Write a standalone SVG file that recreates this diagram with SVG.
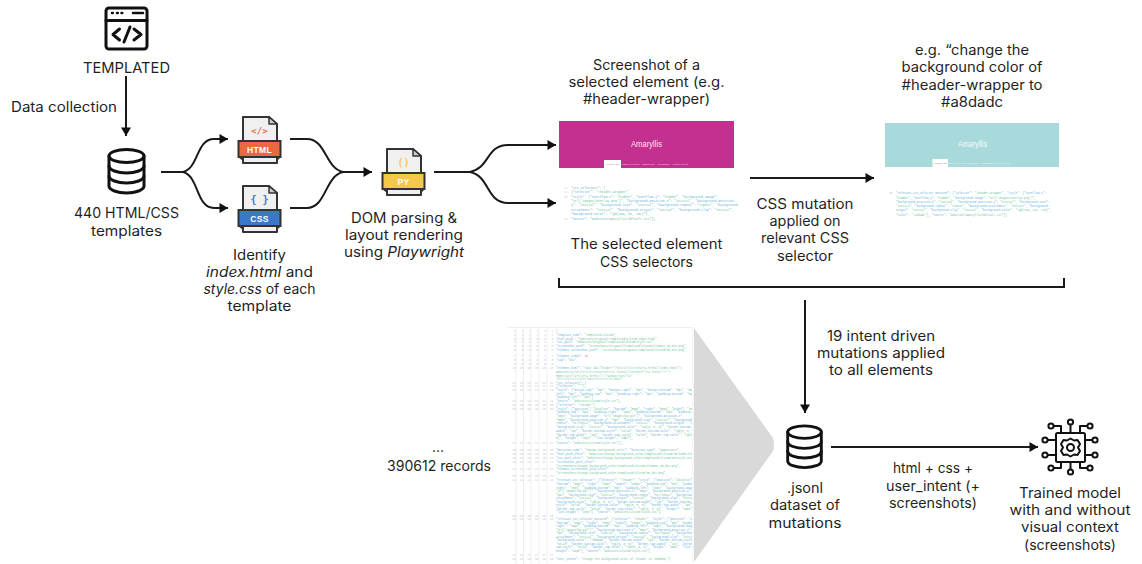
<svg xmlns="http://www.w3.org/2000/svg" width="1142" height="564" viewBox="0 0 1142 564">
<style>
.t{font-family:"Inter","Open Sans","Liberation Sans",sans-serif;font-size:14px;fill:#1f1f1f;text-anchor:middle}
.i{font-style:italic}
.c{fill:none;stroke:#1a1a1a;stroke-width:2}
.ic{fill:none;stroke:#111;stroke-width:3;stroke-linecap:round;stroke-linejoin:round}
.ch{fill:none;stroke:#111;stroke-width:2;stroke-linecap:round;stroke-linejoin:round}
.b{font-family:"Liberation Sans",sans-serif;font-weight:700;font-size:8.5px;fill:#fff;text-anchor:middle;letter-spacing:.4px}
.m{font-family:"DejaVu Sans Mono","Liberation Mono",monospace;font-weight:700;text-anchor:middle}
.code{font-family:"Liberation Mono",monospace;font-size:3.2px;fill:#68b0d8}
.code tspan{fill:#6cc596}
.sm{font-size:2.8px}
.sm2{font-size:2.85px}
.n{font-family:"Liberation Mono",monospace;font-size:2.8px;fill:#c4c4c4;word-spacing:2.46px}
.n1{font-family:"Liberation Mono",monospace;font-size:2.8px;fill:#c4c4c4;word-spacing:4.14px}
.sep{stroke:#efefef;stroke-width:1}
.am{font-family:"Liberation Sans",sans-serif;font-size:9px;fill:#fff;text-anchor:middle;opacity:.9}
.tab{font-family:"Liberation Sans",sans-serif;font-size:2.4px;fill:#fff;text-anchor:middle;opacity:.7}
</style>
<defs>
<clipPath id="panel"><rect x="507" y="327" width="185" height="237"/></clipPath>
<marker id="a" markerUnits="userSpaceOnUse" markerWidth="12" markerHeight="12" refX="10" refY="6" orient="auto"><path d="M1.500 1 10 6 1.500 11z" fill="#111"/></marker>
<g id="page">
<path d="M5 25V1H31L39 8V25M5 41V47H39V41" fill="#f0f0f0" stroke="#333" stroke-width="2" stroke-linejoin="round"/>
<path d="M31 1V8H39z" fill="#ccc" stroke="#333" stroke-width="1.500" stroke-linejoin="round"/>
<path d="M0 41 5 45V41zM43 41 39 45V41z" fill="#333"/>
</g>
<g id="db" class="ic">
<ellipse cx="0" cy="-15" rx="17.500" ry="6.500"/>
<path d="M-17.500 -15V15C-17.500 19 -9 22 0 22S17.500 19 17.500 15V-15"/>
<path d="M-17.500 -5C-17.500 -1 -9 2 0 2S17.500 -1 17.500 -5"/>
<path d="M-17.500 5C-17.500 9 -9 12 0 12S17.500 9 17.500 5"/>
</g>
</defs>

<g id="connectors">
<path class="c" marker-end="url(#a)" d="M126 76V136"/>
<path class="c" marker-end="url(#a)" d="M161 172H183C199 168 196 139 214 139H228"/>
<path class="c" marker-end="url(#a)" d="M161 172H183C199 176 196 208 214 208H228"/>
<path class="c" d="M290 139H307C326 139 325 168 343 172"/>
<path class="c" d="M290 208H307C326 208 325 176 343 172"/>
<path class="c" marker-end="url(#a)" d="M340 172H372"/>
<path class="c" marker-end="url(#a)" d="M434 172H470C490 168 486 145 508 145H556"/>
<path class="c" marker-end="url(#a)" d="M470 172C490 176 486 203 508 203H556"/>
<path class="c" marker-end="url(#a)" d="M750 178H874"/>
<path class="c" d="M559 278V287H1064V278"/>
<path class="c" marker-end="url(#a)" d="M805 300V413"/>
<path class="c" marker-end="url(#a)" d="M831 447H1038"/>
</g>

<g id="templated">
<rect class="ic" x="106" y="8" width="41" height="41" rx="3"/>
<path class="ic" d="M106 20.500H147"/>
<path d="M112 13H112.800M117 13H117.800M121.500 13H122.300" class="ic" style="stroke-width:2.500"/>
<path class="ic" d="M133 13H143" style="stroke-width:2.500"/>
<path class="ic" d="M119.500 29 113 34.500 119.500 40M130 27 124 42M134 29 141 34.500 134 40"/>
<text class="t" x="126.500" y="73" textLength="87" lengthAdjust="spacingAndGlyphs">TEMPLATED</text>
</g>
<g id="data-collection"><text class="t" x="64" y="112" textLength="106" lengthAdjust="spacingAndGlyphs">Data collection</text></g>
<g id="templates-db">
<use href="#db" x="126.500" y="171"/>
<text class="t" x="126.500" y="218" textLength="105" lengthAdjust="spacingAndGlyphs">440 HTML/CSS</text>
<text class="t" x="126.500" y="236" textLength="71" lengthAdjust="spacingAndGlyphs">templates</text>
</g>
<g id="html-file">
<use href="#page" x="238" y="116"/>
<rect x="238.500" y="141" width="42" height="16" fill="#e96a42" stroke="#333" stroke-width="2"/>
<text class="m" x="259.500" y="134" font-size="9" style="fill:#e96a42">&lt;/&gt;</text>
<text class="b" x="259.500" y="152.500">HTML</text>
</g>
<g id="css-file">
<use href="#page" x="238" y="185"/>
<rect x="238.500" y="210" width="42" height="16" fill="#3a78c9" stroke="#333" stroke-width="2"/>
<text class="m" x="259.500" y="203" font-size="10" style="fill:#3a78c9">{ }</text>
<text class="b" x="259.500" y="221.500">CSS</text>
</g>
<g id="identify">
<text class="t" x="259.500" y="260" textLength="53" lengthAdjust="spacingAndGlyphs">Identify</text>
<text class="t" x="259.500" y="277" textLength="107" lengthAdjust="spacingAndGlyphs"><tspan class="i">index.html</tspan> and</text>
<text class="t" x="259.500" y="294" textLength="112" lengthAdjust="spacingAndGlyphs"><tspan class="i">style.css</tspan> of each</text>
<text class="t" x="259.500" y="311" textLength="64" lengthAdjust="spacingAndGlyphs">template</text>
</g>
<g id="py-file">
<use href="#page" x="382" y="148"/>
<rect x="382.500" y="173" width="42" height="16" fill="#f4c94a" stroke="#333" stroke-width="2"/>
<text class="m" x="403.500" y="166" font-size="10" style="fill:#f4c94a">()</text>
<text class="b" x="403.500" y="184.500">PY</text>
</g>
<g id="dom-parsing">
<text class="t" x="404" y="222.500" textLength="106" lengthAdjust="spacingAndGlyphs">DOM parsing &amp;</text>
<text class="t" x="404" y="240" textLength="118" lengthAdjust="spacingAndGlyphs">layout rendering</text>
<text class="t" x="404" y="257" textLength="120" lengthAdjust="spacingAndGlyphs">using <tspan class="i">Playwright</tspan></text>
</g>
<g id="screenshot-caption">
<text class="t" x="646.500" y="70" textLength="107" lengthAdjust="spacingAndGlyphs">Screenshot of a</text>
<text class="t" x="646.500" y="87" textLength="156" lengthAdjust="spacingAndGlyphs">selected element (e.g.</text>
<text class="t" x="646.500" y="104" textLength="127" lengthAdjust="spacingAndGlyphs">#header-wrapper)</text>
</g>
<g id="original-element">
<rect x="559" y="121" width="175" height="47" fill="#c4308f"/>
<text class="am" x="646.500" y="147" textLength="31" lengthAdjust="spacingAndGlyphs">Amaryllis</text>
<rect x="604" y="160" width="17" height="8" fill="#fff"/>
<text class="tab" x="612.500" y="165" style="fill:#c4308f">HOMEPAGE</text>
<text class="tab" x="630.500" y="165">RESTAURANTS</text>
<text class="tab" x="648" y="165">ABOUT US</text>
<text class="tab" x="663.500" y="165">RUNNERS</text>
<text class="tab" x="680.500" y="165">CONTACT US</text>
<g class="code">
<text class="n" x="564" y="189">11</text><text x="571" y="189">"css_selectors": [</text>
<text class="n" x="564" y="193">12</text><text x="571" y="193">{"selector": <tspan>"#header-wrapper",</tspan></text>
<text class="n" x="564" y="197.500">13</text><text x="571" y="197.500">"style": {"overflow-x": <tspan>"hidden",</tspan> "overflow-y": <tspan>"hidden",</tspan> "background-image":</text>
<text x="571" y="202"><tspan>"url('images/overlay.png')",</tspan> "background-position-x": <tspan>"initial",</tspan> "background-position-</text>
<text x="571" y="206">y": <tspan>"initial",</tspan> "background-size": <tspan>"initial",</tspan> "background-repeat": <tspan>"repeat",</tspan> "background-</text>
<text x="571" y="210.500">attachment": <tspan>"initial",</tspan> "background-origin": <tspan>"initial",</tspan> "background-clip": <tspan>"initial",</tspan></text>
<text x="571" y="215">"background-color": <tspan>"rgb(196, 51, 151)"},</tspan></text>
<text class="n" x="564" y="219.500">14</text><text x="571" y="219.500">"source": <tspan>"websites/Amaryllis/default.css"}],</tspan></text>
</g>
<text class="t" x="646.500" y="249" textLength="152" lengthAdjust="spacingAndGlyphs">The selected element</text>
<text class="t" x="646.500" y="267" textLength="93" lengthAdjust="spacingAndGlyphs">CSS selectors</text>
</g>
<g id="mutation-label">
<text class="t" x="805" y="209" textLength="97" lengthAdjust="spacingAndGlyphs">CSS mutation</text>
<text class="t" x="805" y="226" textLength="71" lengthAdjust="spacingAndGlyphs">applied on</text>
<text class="t" x="805" y="243" textLength="88" lengthAdjust="spacingAndGlyphs">relevant CSS</text>
<text class="t" x="805" y="261" textLength="56" lengthAdjust="spacingAndGlyphs">selector</text>
</g>
<g id="intent-caption">
<text class="t" x="972" y="55" textLength="114" lengthAdjust="spacingAndGlyphs">e.g. “change the</text>
<text class="t" x="972" y="72" textLength="141" lengthAdjust="spacingAndGlyphs">background color of</text>
<text class="t" x="972" y="90" textLength="141" lengthAdjust="spacingAndGlyphs">#header-wrapper to</text>
<text class="t" x="972" y="107" textLength="62" lengthAdjust="spacingAndGlyphs">#a8dadc</text>
</g>
<g id="mutated-element">
<rect x="885" y="123" width="174" height="44" fill="#a8dadc"/>
<text class="am" x="972.500" y="147" textLength="29" lengthAdjust="spacingAndGlyphs">Amaryllis</text>
<rect x="932.500" y="159" width="15.500" height="8" fill="#fff"/>
<text class="tab" x="940" y="164" style="fill:#c4308f">HOMEPAGE</text>
<text class="tab" x="957" y="164">RESTAURANTS</text>
<text class="tab" x="973" y="164">ABOUT US</text>
<text class="tab" x="987.500" y="164">RUNNERS</text>
<text class="tab" x="1002.500" y="164">CONTACT US</text>
<g class="code sm2">
<text class="n" x="889" y="194">30</text><text x="896" y="194">"relevant_css_selector_mutated": {"selector": <tspan>"#header-wrapper",</tspan> "style": {"overflow-x":</text>
<text x="896" y="198.500"><tspan>"hidden",</tspan> "overflow-y": <tspan>"hidden",</tspan> "background-image": <tspan>"url('images/overlay.png')",</tspan></text>
<text x="896" y="202.500">"background-position-x": <tspan>"initial",</tspan> "background-position-y": <tspan>"initial",</tspan> "background-size":</text>
<text x="896" y="207"><tspan>"initial",</tspan> "background-repeat": <tspan>"repeat",</tspan> "background-attachment": <tspan>"initial",</tspan> "background-</text>
<text x="896" y="211">origin": <tspan>"initial",</tspan> "background-clip": <tspan>"initial",</tspan> "background-color": <tspan>"rgb(168, 218, 220)",</tspan></text>
<text x="896" y="215.500">"color": <tspan>"#a8dadc"},</tspan> "source": <tspan>"websites/Amaryllis/default.css"}]</tspan></text>
</g>
</g>
<g id="records">
<text class="t" x="438" y="452">...</text>
<text class="t" x="439" y="471" textLength="104" lengthAdjust="spacingAndGlyphs">390612 records</text>
</g>
<g id="dataset-preview">
<path d="M694 328 773 438Q775 445 773 451L694 562z" fill="#d9d9d9"/>
<path d="M507 327.500H693V564" fill="none" stroke="#f0f0f0"/>
<path class="sep" d="M516 328V564M523.500 328V564M531 328V564M539 328V564M547 328V564"/>
<g class="code sm" clip-path="url(#panel)">
<text class="n1" x="514" y="332">1 1 1 1 1 1</text><text x="556" y="332">{</text>
<text class="n1" x="514" y="336">2 2 2 2 2 2</text><text x="556" y="336">"template_name": <tspan>"templated-alstom",</tspan></text>
<text class="n1" x="514" y="339.500">3 3 3 3 3 3</text><text x="556" y="339.500">"html_path": <tspan>"websites/original/templated/alstom/index.html",</tspan></text>
<text class="n1" x="514" y="343">4 4 4 4 4 4</text><text x="556" y="343">"css_path": <tspan>"websites/original/templated/alstom/style.css",</tspan></text>
<text class="n1" x="514" y="347">5 5 5 5 5 5</text><text x="556" y="347">"screenshot_path": <tspan>"screenshots/original/templated/alstom/element_35_div.png",</tspan></text>
<text class="n1" x="514" y="350.500">6 6 6 6 6 6</text><text x="556" y="350.500">"element_screenshot_path": <tspan>"screenshots/original/templated/alstom/35_div.png",</tspan></text>
<text class="n1" x="514" y="357">7 7 7 7 7 7</text><text x="556" y="357">"element_index": <tspan style="fill:#e58aa0">35,</tspan></text>
<text class="n1" x="514" y="361">8 8 8 8 8 8</text><text x="556" y="361">"tag": <tspan>"div",</tspan></text>
<text class="n1" x="514" y="365">9 9 9 9 9 9</text>
<text class="n" x="512.300" y="369">10 10 10 10 10 10</text><text x="556" y="369">"element_html": <tspan>"&lt;div id=\"header\"&gt;\n\t\t\t\t\t&lt;h1&gt;&lt;a href=\"index.html\"&gt;</tspan></text>
<text x="556" y="372.500"><tspan>website&lt;/a&gt;\n\t\t\t\t\t&lt;nav&gt;&lt;ul&gt;&lt;li class=\"current\"&gt;&lt;a href=\"#\"&gt;</tspan></text>
<text x="556" y="376.500"><tspan>Home&lt;/a&gt;&lt;/li&gt;&lt;li&gt;&lt;a href=\"#\"&gt;About&lt;/a&gt;&lt;/li&gt;</tspan></text>
<text x="556" y="380"><tspan>\n\t\t\t\t\t&lt;/ul&gt;&lt;/nav&gt;\n\t\t\t\t&lt;/div&gt;",</tspan></text>
<text class="n" x="512.300" y="383.500">11 11 11 11 11 11</text><text x="556" y="383.500">"css_selectors": [</text>
<text class="n" x="512.300" y="387">12 12 12 12 12 12</text><text x="556" y="387">{"selector": <tspan>"*"},</tspan></text>
<text class="n" x="512.300" y="391">13 13 13 13 13 13</text><text x="556" y="391">"style": {"margin-top": <tspan>"0px",</tspan> "margin-right": <tspan>"0px",</tspan> "margin-bottom": <tspan>"0px",</tspan> "margin-</text>
<text x="556" y="394.500">left": <tspan>"0px",</tspan> "padding-top": <tspan>"0px",</tspan> "padding-right": <tspan>"0px",</tspan> "padding-bottom": <tspan>"0px",</tspan></text>
<text x="556" y="398">"padding-left": <tspan>"0px"},</tspan></text>
<text class="n" x="512.300" y="402">14 14 14 14 14 14</text><text x="556" y="402">"source": <tspan>"websites/alstom/style.css"},</tspan></text>
<text class="n" x="512.300" y="405.500">15 15 15 15 15 15</text><text x="556" y="405.500">{"selector": <tspan>"#header"},</tspan></text>
<text class="n" x="512.300" y="409.500">16 16 16 16 16 16</text><text x="556" y="409.500">"style": {"position": <tspan>"absolute",</tspan> "bottom": <tspan>"50px",</tspan> "right": <tspan>"30px",</tspan> "width": <tspan>"100px",</tspan></text>
<text x="556" y="413">"padding-top": <tspan>"0px",</tspan> "padding-right": <tspan>"10px",</tspan> "padding-bottom": <tspan>"0px",</tspan> "padding-left":</text>
<text x="556" y="416.500"><tspan>"10px",</tspan> "background-image": <tspan>"url('images/bg.gif')",</tspan> "background-position-x":</text>
<text x="556" y="420.500"><tspan>"50px",</tspan> "background-position-y": <tspan>"0px",</tspan> "background-size": <tspan>"initial",</tspan> "background-</text>
<text x="556" y="424">repeat": <tspan>"no-repeat",</tspan> "background-attachment": <tspan>"initial",</tspan> "background-origin": <tspan>"initial",</tspan></text>
<text x="556" y="428">"background-clip": <tspan>"initial",</tspan> "background-color": <tspan>"rgb(0, 0, 0)",</tspan> "border-bottom-</text>
<text x="556" y="431.500">width": <tspan>"1px",</tspan> "border-bottom-style": <tspan>"solid",</tspan> "border-bottom-color": <tspan>"rgb(0, 0, 0)",</tspan></text>
<text x="556" y="435.500">"border-top-width": <tspan>"1px",</tspan> "border-top-style": <tspan>"solid",</tspan> "border-top-color": <tspan>"rgb(0, 0,</tspan></text>
<text x="556" y="439"><tspan>0)",</tspan> "height": <tspan>"40px",</tspan> "line-height": <tspan>"40px"},</tspan></text>
<text class="n" x="512.300" y="444">17 17 17 17 17 17</text><text x="556" y="444">"source": <tspan>"websites/alstom/style.css"}],</tspan></text>
<text class="n" x="512.300" y="451">18 18 18 18 18 18</text><text x="556" y="451">"mutation_name": <tspan>"change_background_color",</tspan> "mutation_type": <tspan>"appearance",</tspan></text>
<text class="n" x="512.300" y="455">19 19 19 19 19 19</text><text x="556" y="455">"html_path_after": <tspan>"websites/change_background_color/templated/alstom/35/index.html",</tspan></text>
<text class="n" x="512.300" y="459">20 20 20 20 20 20</text><text x="556" y="459">"css_path_after": <tspan>"websites/change_background_color/templated/alstom/35/style.css",</tspan></text>
<text class="n" x="512.300" y="463">21 21 21 21 21 21</text><text x="556" y="463">"screenshot_path_after":</text>
<text x="556" y="466.500"><tspan>"screenshots/change_background_color/templated/alstom/element_35_div.png",</tspan></text>
<text class="n" x="512.300" y="470">22 22 22 22 22 22</text><text x="556" y="470">"element_screenshot_path_after":</text>
<text x="556" y="473.500"><tspan>"screenshots/change_background_color/templated/alstom/35_div.png",</tspan></text>
<text class="n" x="512.300" y="477">23 23 23 23 23 23</text>
<text class="n" x="512.300" y="481">24 24 24 24 24 24</text><text x="556" y="481">"relevant_css_selector": {"selector": <tspan>"#header",</tspan> "style": {"position": <tspan>"absolute",</tspan></text>
<text x="556" y="484.500">"bottom": <tspan>"50px",</tspan> "right": <tspan>"30px",</tspan> "width": <tspan>"100px",</tspan> "padding-top": <tspan>"0px",</tspan> "padding-</text>
<text x="556" y="488.500">right": <tspan>"10px",</tspan> "padding-bottom": <tspan>"0px",</tspan> "padding-left": <tspan>"10px",</tspan> "background-image":</text>
<text x="556" y="492"><tspan>"url('images/bg.gif')",</tspan> "background-position-x": <tspan>"50px",</tspan> "background-position-y":</text>
<text x="556" y="495.500"><tspan>"0px",</tspan> "background-size": <tspan>"initial",</tspan> "background-repeat": <tspan>"no-repeat",</tspan> "background-</text>
<text x="556" y="499">attachment": <tspan>"initial",</tspan> "background-origin": <tspan>"initial",</tspan> "background-clip": <tspan>"initial",</tspan></text>
<text x="556" y="502.500">"background-color": <tspan>"rgb(0, 0, 0)",</tspan> "border-bottom-width": <tspan>"1px",</tspan> "border-bottom-</text>
<text x="556" y="506">style": <tspan>"solid",</tspan> "border-bottom-color": <tspan>"rgb(0, 0, 0)",</tspan> "border-top-width": <tspan>"1px",</tspan></text>
<text x="556" y="509.500">"border-top-style": <tspan>"solid",</tspan> "border-top-color": <tspan>"rgb(0, 0, 0)",</tspan> "height": <tspan>"40px",</tspan></text>
<text x="556" y="513">"line-height": <tspan>"40px"},</tspan> "source": <tspan>"websites/alstom/style.css"},</tspan></text>
<text class="n" x="512.300" y="517">25 25 25 25 25 25</text>
<text class="n" x="512.300" y="520">26 26 26 26 26 26</text><text x="556" y="520">"relevant_css_selector_mutated": {"selector": <tspan>"#header",</tspan> "style": {"position": <tspan>"absolute",</tspan></text>
<text x="556" y="523.500">"bottom": <tspan>"50px",</tspan> "right": <tspan>"30px",</tspan> "width": <tspan>"100px",</tspan> "padding-top": <tspan>"0px",</tspan> "padding-</text>
<text x="556" y="527">right": <tspan>"10px",</tspan> "padding-bottom": <tspan>"0px",</tspan> "padding-left": <tspan>"10px",</tspan> "background-image":</text>
<text x="556" y="530.500"><tspan>"url('images/bg.gif')",</tspan> "background-position-x": <tspan>"50px",</tspan> "background-position-y":</text>
<text x="556" y="534"><tspan>"0px",</tspan> "background-size": <tspan>"initial",</tspan> "background-repeat": <tspan>"no-repeat",</tspan> "background-</text>
<text x="556" y="537.500">attachment": <tspan>"initial",</tspan> "background-origin": <tspan>"initial",</tspan> "background-clip": <tspan>"initial",</tspan></text>
<text x="556" y="541">"background-color": <tspan>"#8d0000",</tspan> "border-bottom-width": <tspan>"1px",</tspan> "border-bottom-style":</text>
<text x="556" y="544.500"><tspan>"solid",</tspan> "border-bottom-color": <tspan>"rgb(0, 0, 0)",</tspan> "border-top-width": <tspan>"1px",</tspan> "border-</text>
<text x="556" y="548">top-style": <tspan>"solid",</tspan> "border-top-color": <tspan>"rgb(0, 0, 0)",</tspan> "height": <tspan>"40px",</tspan> "line-</text>
<text x="556" y="551.500">height": <tspan>"40px"},</tspan> "source": <tspan>"websites/alstom/style.css"},</tspan></text>
<text class="n" x="512.300" y="556">27 27 27 27 27 27</text>
<text class="n" x="512.300" y="560">28 28 28 28 28 28</text><text x="556" y="560">"user_intent": <tspan>"change the background color of #header to #8d0000."}</tspan></text>
</g>
</g>
<g id="intent-label">
<text class="t" x="881" y="341" textLength="108" lengthAdjust="spacingAndGlyphs">19 intent driven</text>
<text class="t" x="881" y="358" textLength="128" lengthAdjust="spacingAndGlyphs">mutations applied</text>
<text class="t" x="881" y="375" textLength="104" lengthAdjust="spacingAndGlyphs">to all elements</text>
</g>
<g id="jsonl-db">
<use href="#db" transform="translate(804.500 446.500) scale(.96)"/>
<text class="t" x="805" y="493" textLength="36" lengthAdjust="spacingAndGlyphs">.jsonl</text>
<text class="t" x="805" y="510" textLength="70" lengthAdjust="spacingAndGlyphs">dataset of</text>
<text class="t" x="805" y="527.500" textLength="73" lengthAdjust="spacingAndGlyphs">mutations</text>
</g>
<g id="input-label">
<text class="t" x="933" y="473" textLength="80" lengthAdjust="spacingAndGlyphs">html + css +</text>
<text class="t" x="933" y="491" textLength="94" lengthAdjust="spacingAndGlyphs">user_intent (+</text>
<text class="t" x="933" y="508" textLength="88" lengthAdjust="spacingAndGlyphs">screenshots)</text>
</g>
<g id="model">
<rect class="ch" x="1056" y="433" width="29" height="29" rx="1.500"/>
<path class="ch" d="M1070.500 438.500 1074 440.500 1077.500 440 1080 444 1078 447.500 1080 451 1077.500 455 1074 454.500 1070.500 456.500 1067 454.500 1063.500 455 1061 451 1063 447.500 1061 444 1063.500 440 1067 440.500z"/>
<circle class="ch" cx="1070.500" cy="447.500" r="3.500"/>
<path class="ch" d="M1070.500 433V425M1061 433V426H1054M1080 433V426H1087M1056 440H1048M1056 455H1048M1085 440H1092M1085 455H1092M1070.500 462V469M1061 462V468H1054M1080 462V468H1087"/>
<g class="ch">
<circle cx="1070.500" cy="422" r="2.600"/><circle cx="1051" cy="426" r="2.600"/><circle cx="1090" cy="426" r="2.600"/>
<circle cx="1045" cy="440" r="2.600"/><circle cx="1045" cy="455" r="2.600"/><circle cx="1095" cy="440" r="2.600"/><circle cx="1095" cy="455" r="2.600"/>
<circle cx="1070.500" cy="472" r="2.600"/><circle cx="1051" cy="468" r="2.600"/><circle cx="1090" cy="468" r="2.600"/>
</g>
<text class="t" x="1070" y="498" textLength="102" lengthAdjust="spacingAndGlyphs">Trained model</text>
<text class="t" x="1070" y="515" textLength="121" lengthAdjust="spacingAndGlyphs">with and without</text>
<text class="t" x="1070" y="532" textLength="98" lengthAdjust="spacingAndGlyphs">visual context</text>
<text class="t" x="1070" y="550" textLength="92" lengthAdjust="spacingAndGlyphs">(screenshots)</text>
</g>
</svg>
